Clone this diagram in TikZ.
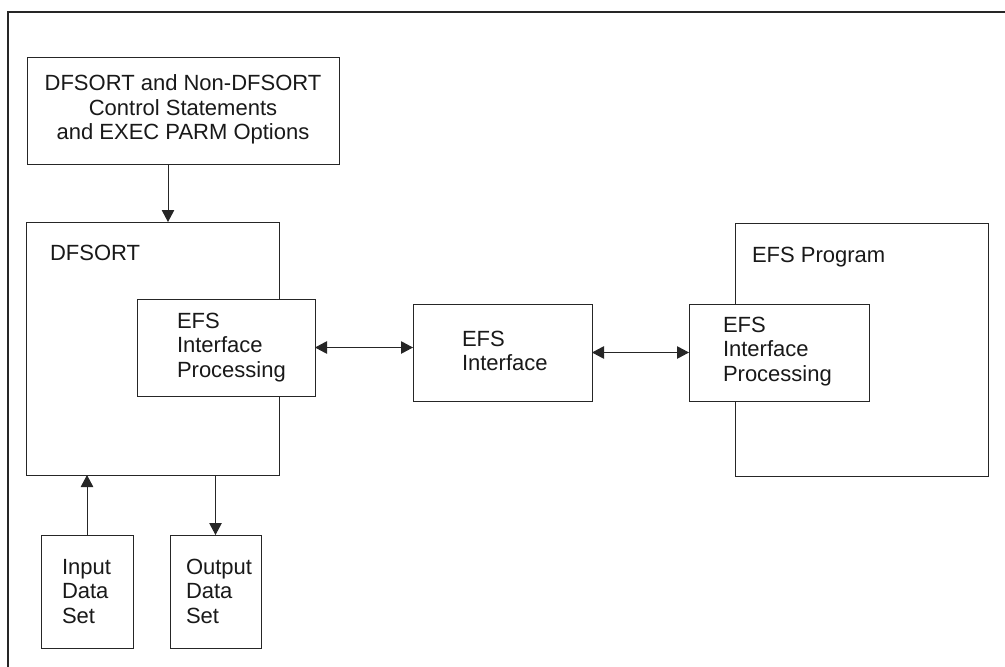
\documentclass[tikz,border=0pt]{standalone}
\usepackage{fontspec}
\setmainfont{Liberation Sans}
\usetikzlibrary{arrows.meta}
\begin{document}
\begin{tikzpicture}[x=1pt,y=-1pt,
  box/.style={draw=black!85, line width=1pt, fill=white, inner sep=0pt, outer sep=0pt, rectangle},
  lbl/.style={inner sep=0pt, outer sep=0pt, text=black!90, font=\fontsize{22}{24.5}\selectfont},
  arr/.style={draw=black!85, line width=1pt, -{Triangle[length=12pt,width=12.5pt]}},
  darr/.style={draw=black!85, line width=1pt, {Triangle[length=12pt,width=12.5pt]}-{Triangle[length=12pt,width=12.5pt]}},
  frame/.style={draw=black!85, line width=1.5pt}]
\useasboundingbox (0,0) rectangle (1005,667);
% frame
\coordinate (ftl) at (8,12);
\coordinate (ftr) at (1010,12);
\coordinate (fbl) at (8,672);
\draw[frame] (ftr) -- (ftl) -- (fbl);
% boxes
\node[box, minimum width=312pt, minimum height=107pt] (top) at (183,110.5) {};
\node[box, minimum width=253pt, minimum height=253pt] (dfsort) at (152.5,348.5) {};
\node[box, minimum width=253pt, minimum height=253pt] (prog) at (861.5,349.5) {};
\node[box, minimum width=178pt, minimum height=97pt] (leip) at (226,347.5) {};
\node[box, minimum width=179pt, minimum height=97pt] (mid) at (502.5,352.5) {};
\node[box, minimum width=180pt, minimum height=97pt] (reip) at (779,352.5) {};
\node[box, minimum width=92pt, minimum height=113pt] (inp) at (87,591.5) {};
\node[box, minimum width=91pt, minimum height=113pt] (outp) at (215.5,591.5) {};
% texts
\node[lbl, anchor=north, align=center] (toptext) at (183,75) {DFSORT and Non-DFSORT\\Control Statements\\and EXEC PARM Options};
\node[lbl, anchor=north west] (dfsorttext) at (50,245) {DFSORT};
\node[lbl, anchor=north west, align=left] (leiptext) at (177,313) {EFS\\Interface\\Processing};
\node[lbl, anchor=north west, align=left] (midtext) at (462,331) {EFS\\Interface};
\node[lbl, anchor=north west] (progtext) at (752,247) {EFS Program};
\node[lbl, anchor=north west, align=left] (reiptext) at (723,317) {EFS\\Interface\\Processing};
\node[lbl, anchor=north west, align=left] (inptext) at (62,559) {Input\\Data\\Set};
\node[lbl, anchor=north west, align=left] (outptext) at (186,559) {Output\\Data\\Set};
% connectors
\coordinate (c1) at (168,0);
\draw[arr] (top.south -| c1) -- (dfsort.north -| c1);
\draw[darr] (leip.east) -- (leip.east -| mid.west);
\draw[darr] (mid.east) -- (mid.east -| reip.west);
\draw[arr] (inp.north) -- (inp.north |- dfsort.south);
\draw[arr] (dfsort.south -| outp.north) -- (outp.north);
\end{tikzpicture}
\end{document}
